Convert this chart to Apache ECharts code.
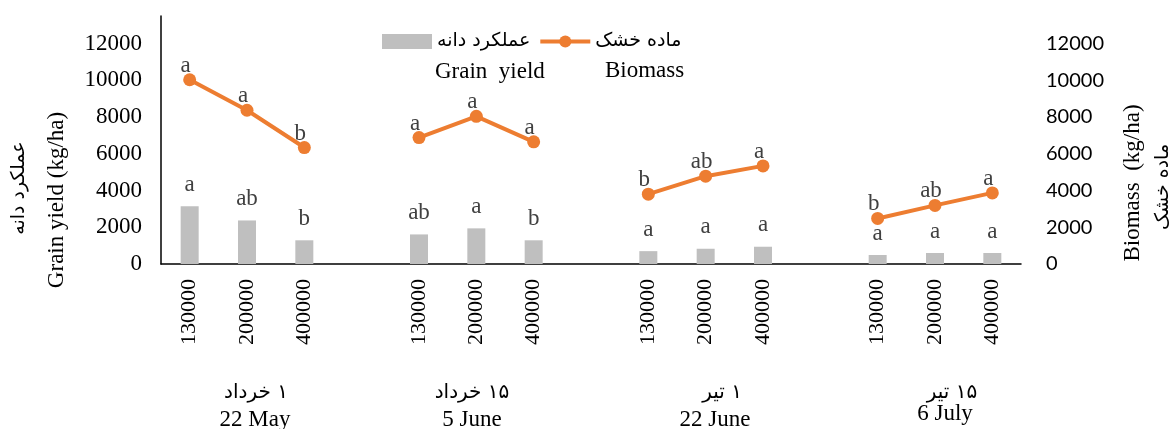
<!DOCTYPE html>
<html>
<head>
<meta charset="utf-8">
<script src="https://cdn.jsdelivr.net/npm/echarts@6/dist/echarts.min.js"></script>
<style>
html, body { margin: 0; padding: 0; background: #fff; }
#chart { width: 1175px; height: 429px; }
</style>
</head>
<body>
<div id="chart"></div>
<script>
// plant densities per sowing date, '' = gap between dates
const categories = [
  "130000", "200000", "400000", "",
  "130000", "200000", "400000", "",
  "130000", "200000", "400000", "",
  "130000", "200000", "400000"
]
// grain yield (kg/ha)
const grainYield = [3150, 2370, 1290, null, 1610, 1940, 1290, null, 700, 830, 940, null, 490, 600, 600]
// biomass (kg/ha)
const biomass = [10030, 8370, 6340, null, 6880, 8040, 6650, null, 3800, 4780, 5340, null, 2480, 3190, 3870]
// mean comparison letters
const grainLetters = ["a", "ab", "b", "", "ab", "a", "b", "", "a", "a", "a", "", "a", "a", "a"]
const biomassLetters = ["a", "a", "b", "", "a", "a", "a", "", "b", "ab", "a", "", "b", "ab", "a"]
// sowing dates
const datesFa = ["\u200F۱ خرداد", "\u200F۱۵ خرداد", "\u200F۱ تیر", "\u200F۱۵ تیر"]
const datesEn = ["22 May", "5 June", "22 June", "6 July"]

const barName = "عملکرد دانه"
const lineName = "ماده خشک"

const serif = "Liberation Serif"
const faFont = "DejaVu Sans"

// where the date captions sit under each group
const datePos = [[256, 393, 255, 420], [472, 393, 472, 420], [722, 393, 715, 420], [952, 393, 945, 414]]

let graphics = []
datesFa.forEach((t, i) => {
  graphics.push({
    type: "text", x: datePos[i][0], y: datePos[i][1],
    style: { text: t, fontFamily: faFont, fontSize: 20, fill: "#000", align: "center", verticalAlign: "middle" }
  })
  graphics.push({
    type: "text", x: datePos[i][2], y: datePos[i][3],
    style: { text: datesEn[i], fontFamily: serif, fontSize: 23, fill: "#000", align: "center", verticalAlign: "middle" }
  })
})
graphics.push(
  { type: "text", x: 435, y: 72, style: { text: "Grain  yield", fontFamily: serif, fontSize: 23, fill: "#000", align: "left", verticalAlign: "middle" } },
  { type: "text", x: 605, y: 71, style: { text: "Biomass", fontFamily: serif, fontSize: 23, fill: "#000", align: "left", verticalAlign: "middle" } },
  { type: "text", x: 57, y: 200, rotation: Math.PI / 2, style: { text: "Grain yield (kg/ha)", fontFamily: serif, fontSize: 23, fill: "#000", align: "center", verticalAlign: "middle" } },
  { type: "text", x: 19, y: 188, rotation: Math.PI / 2, style: { text: barName, fontFamily: faFont, fontSize: 19, fill: "#000", align: "center", verticalAlign: "middle" } },
  { type: "text", x: 1133, y: 183, rotation: Math.PI / 2, style: { text: "Biomass  (kg/ha)", fontFamily: serif, fontSize: 23, fill: "#000", align: "center", verticalAlign: "middle" } },
  { type: "text", x: 1163, y: 187, rotation: Math.PI / 2, style: { text: lineName, fontFamily: faFont, fontSize: 19, fill: "#000", align: "center", verticalAlign: "middle" } }
)

const option = {
  animation: false,
  grid: { left: 161, right: 154, top: 16, bottom: 165 },
  legend: {
    left: 377,
    top: 27,
    itemWidth: 50,
    itemHeight: 15,
    itemGap: 8,
    textStyle: { fontFamily: faFont, fontSize: 19, color: "#000" },
    data: [
      { name: barName, icon: "rect" },
      { name: lineName, lineStyle: { width: 4 } }
    ]
  },
  xAxis: {
    type: "category",
    data: categories,
    axisTick: { show: false },
    axisLine: { lineStyle: { color: "#000", width: 1.5 } },
    axisLabel: { interval: 0, rotate: 90, margin: 15, fontFamily: serif, fontSize: 22, color: "#000" }
  },
  yAxis: [
    {
      type: "value",
      min: 0,
      max: 13500,
      interval: 2000,
      splitLine: { show: false },
      axisTick: { show: false },
      axisLine: { show: true, lineStyle: { color: "#000", width: 1.5 } },
      axisLabel: { margin: 19, fontFamily: serif, fontSize: 23, color: "#000", showMaxLabel: false, formatter: v => String(v) }
    },
    {
      type: "value",
      position: "right",
      min: 0,
      max: 13500,
      interval: 2000,
      splitLine: { show: false },
      axisTick: { show: false },
      axisLine: { show: false },
      axisLabel: { margin: 25, fontFamily: "Lato", fontSize: 20, color: "#000", showMaxLabel: false, formatter: v => String(v) }
    }
  ],
  series: [
    {
      name: barName,
      type: "bar",
      yAxisIndex: 0,
      data: grainYield,
      barWidth: 18,
      itemStyle: { color: "#BFBFBF" },
      label: {
        show: true,
        position: "top",
        distance: 10,
        fontFamily: serif,
        fontSize: 23,
        color: "#404040",
        formatter: p => grainLetters[p.dataIndex]
      }
    },
    {
      name: lineName,
      type: "line",
      yAxisIndex: 1,
      data: biomass,
      symbol: "circle",
      symbolSize: 13,
      lineStyle: { color: "#ED7D31", width: 4 },
      itemStyle: { color: "#ED7D31" },
      label: {
        show: true,
        position: "top",
        distance: -4,
        offset: [-4, 0],
        fontFamily: serif,
        fontSize: 23,
        color: "#404040",
        formatter: p => biomassLetters[p.dataIndex]
      }
    }
  ],
  graphic: graphics
}

const chart = echarts.init(document.getElementById("chart"))
chart.setOption(option)
</script>
</body>
</html>
